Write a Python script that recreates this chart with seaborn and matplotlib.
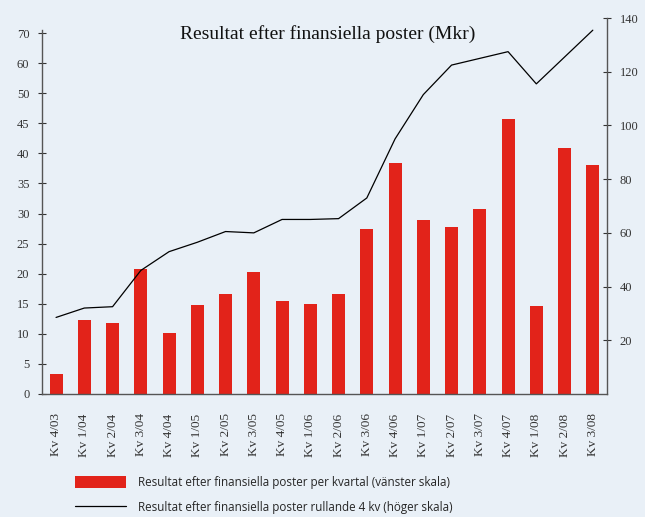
import matplotlib
matplotlib.use("Agg")
import matplotlib.pyplot as plt
import seaborn as sns
import pandas as pd

# --- data ---
kvartal = ["Kv 4/03", "Kv 1/04", "Kv 2/04", "Kv 3/04", "Kv 4/04", "Kv 1/05", "Kv 2/05",
           "Kv 3/05", "Kv 4/05", "Kv 1/06", "Kv 2/06", "Kv 3/06", "Kv 4/06", "Kv 1/07",
           "Kv 2/07", "Kv 3/07", "Kv 4/07", "Kv 1/08", "Kv 2/08", "Kv 3/08"]
per_kvartal = [3.3, 12.3, 11.8, 20.8, 10.1, 14.8, 16.6, 20.3, 15.5, 15.0,
               16.6, 27.4, 38.4, 28.9, 27.7, 30.7, 45.8, 14.6, 40.9, 38.0]
rullande_4kv = [28.5, 32.0, 32.5, 46.0, 53.0, 56.5, 60.5, 60.0, 65.0, 65.0,
                65.3, 73.0, 95.0, 111.5, 122.5, 125.0, 127.5, 115.5, 125.5, 135.5]

# left scale labels as printed in the original (tick spacing is uniform)
vanster_pos = [0, 5, 10, 15, 20, 25, 30, 35, 40, 45, 50, 55, 60]
vanster_txt = ["0", "5", "10", "15", "20", "25", "30", "35", "40", "45", "50", "60", "70"]
hoger_pos = [20, 40, 60, 80, 100, 120, 140]

df = pd.DataFrame({"kvartal": kvartal, "kv": per_kvartal, "rull": rullande_4kv})

bg = "#e9f0f7"
rod = "#e2231a"
serif = ["Liberation Serif", "DejaVu Serif"]

sns.set_style("white")
plt.rcParams["font.family"] = serif

fig = plt.figure(figsize=(6.45, 5.17), dpi=100, facecolor=bg)
ax = fig.add_axes([0.065, 0.238, 0.876, 0.727])
ax.set_facecolor(bg)

sns.barplot(data=df, x="kvartal", y="kv", color=rod, width=0.46, saturation=1,
            linewidth=0, ax=ax,
            label="Resultat efter finansiella poster per kvartal (vänster skala)")
ax.set_xlim(-0.5, len(kvartal) - 0.5)
ax.set_ylim(0, 62.5)
ax.set_yticks(vanster_pos)
ax.set_yticklabels(vanster_txt)
ax.set_xticks([i + 0.5 for i in range(len(kvartal))], minor=True)
ax.set_xticks(range(len(kvartal)))
ax.set_xticklabels(kvartal, rotation=90)
ax.set_xlabel("")
ax.set_ylabel("")

ax2 = ax.twinx()
sns.lineplot(data=df, x="kvartal", y="rull", color="black", linewidth=0.9, ax=ax2,
             label="Resultat efter finansiella poster rullande 4 kv (höger skala)")
ax2.set_ylim(0, 140)
ax2.set_yticks(hoger_pos)
ax2.set_ylabel("")
ax2.set_xlabel("")

h1, l1 = ax.get_legend_handles_labels()
h2, l2 = ax2.get_legend_handles_labels()
for a in (ax, ax2):
    if a.get_legend() is not None:
        a.get_legend().remove()

for a in (ax, ax2):
    a.spines["top"].set_visible(False)
    for s in ("left", "right", "bottom"):
        a.spines[s].set_color("#555555")
        a.spines[s].set_linewidth(1.0)
ax.spines["right"].set_visible(False)
ax2.spines["left"].set_visible(False)
ax2.spines["bottom"].set_visible(False)
ax.spines["left"].set_bounds(0, 60.5)

ax.tick_params(axis="y", direction="inout", length=6, width=0.8, labelsize=9,
               colors="#333333", pad=6)
ax.tick_params(axis="x", which="major", length=0, labelsize=9.5, pad=14, colors="#333333")
ax.tick_params(axis="x", which="minor", direction="inout", length=6, width=0.8)
ax2.tick_params(axis="y", direction="inout", length=6, width=0.8, labelsize=9,
                colors="#333333", pad=6)

fig.text(0.508, 0.935, "Resultat efter finansiella poster (Mkr)", ha="center", va="center",
         fontsize=14, color="#111111")

fig.legend(h1 + h2, l1 + l2, loc="upper left", bbox_to_anchor=(0.1, 0.1),
           frameon=False, handlelength=4.4, handleheight=1.2, handletextpad=1.0,
           labelspacing=1.05,
           prop={"family": ["Open Sans", "DejaVu Sans"], "size": 8.4})

fig.savefig("out.png", dpi=100, facecolor=bg)
